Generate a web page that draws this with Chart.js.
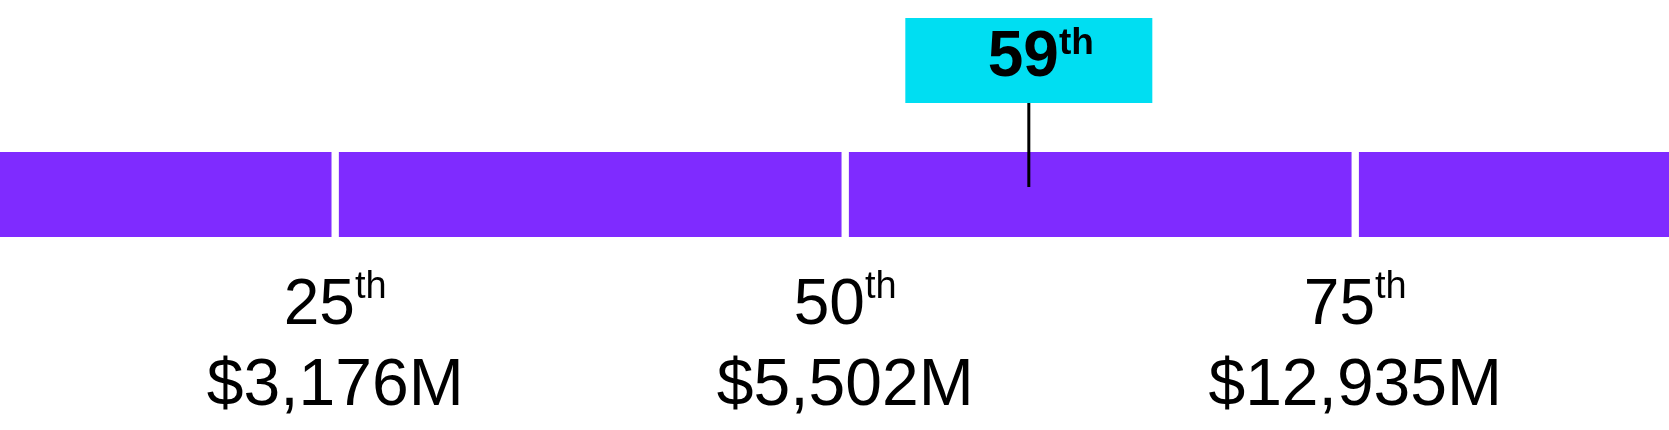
<!DOCTYPE html>
<html lang="en">
<head>
  <meta charset="utf-8">
  <title>Percentile bar</title>
  <script src="https://cdn.jsdelivr.net/npm/chart.js@4.4.1/dist/chart.umd.min.js"></script>
<style>
body { margin: 0; background: #ffffff; }
#wrap { width: 1669px; height: 430px; position: relative; }
</style>
</head>
<body>
<div id="wrap"><canvas id="pct-chart"></canvas></div>

<script>
// percentile bands and their labels
var bounds = [0, 25, 50, 75, 100];
var tickPercentiles = [25, 50, 75];
var tickSuffix = ['th', 'th', 'th'];
var tickValues = ['$3,176M', '$5,502M', '$12,935M'];
var markerPercentile = 59;
var markerSuffix = 'th';

var purple = '#7f2bff';
var cyan = '#00def2';

// one dataset per band, floating from bound to bound
var bands = [];
for (var i = 0; i < bounds.length - 1; i++) {
  bands.push({
    data: [[bounds[i], bounds[i + 1]]],
    backgroundColor: purple,
    borderColor: '#ffffff',
    borderWidth: {left: 4, right: 4, top: 0, bottom: 0},
    borderSkipped: false,
    grouped: false,
    barThickness: 85,
    clip: 0
  });
}

// text with a raised suffix, centred on cx
function supText(ctx, main, sup, cx, baseline, mainFont, supFont, rise) {
  ctx.font = mainFont;
  var w1 = ctx.measureText(main).width;
  ctx.font = supFont;
  var w2 = ctx.measureText(sup).width;
  var x0 = cx - (w1 + w2) / 2;
  ctx.textAlign = 'left';
  ctx.textBaseline = 'alphabetic';
  ctx.font = mainFont;
  ctx.fillText(main, x0, baseline);
  ctx.font = supFont;
  ctx.fillText(sup, x0 + w1, baseline - rise);
}

var labelsPlugin = {
  id: 'pctLabels',
  afterDatasetsDraw: function(chart) {
    var ctx = chart.ctx;
    var xs = chart.scales.x;
    var bar = chart.getDatasetMeta(0).data[0];
    var barTop = bar.y - bar.height / 2;
    var barBottom = bar.y + bar.height / 2;
    ctx.save();
    ctx.fillStyle = '#000000';
    var font = '"Liberation Sans", Arial, sans-serif';

    // percentile ticks under the bar
    tickPercentiles.forEach(function(p, k) {
      var cx = xs.getPixelForValue(p);
      supText(ctx, String(p), tickSuffix[k], cx, barBottom + 87,
        '64px ' + font, '38px ' + font, 26);
      ctx.textAlign = 'center';
      ctx.font = '66px ' + font;
      ctx.fillText(tickValues[k], cx, barBottom + 168);
    });

    // marker: pin + box
    var mx = xs.getPixelForValue(markerPercentile);
    var boxW = 247, boxH = 85;
    var boxBottom = barTop - 49;
    ctx.strokeStyle = '#000000';
    ctx.lineWidth = 3;
    ctx.beginPath();
    ctx.moveTo(mx, boxBottom - 2);
    ctx.lineTo(mx, barTop + 35);
    ctx.stroke();
    ctx.fillStyle = cyan;
    ctx.fillRect(mx - boxW / 2, boxBottom - boxH, boxW, boxH);
    ctx.fillStyle = '#000000';
    supText(ctx, String(markerPercentile), markerSuffix, mx + 12, boxBottom - 27,
      'bold 64px ' + font, 'bold 37px ' + font, 22);
    ctx.restore();
  }
};

new Chart(document.getElementById('pct-chart'), {
  type: 'bar',
  data: {
    labels: [''],
    datasets: bands
  },
  options: {
    indexAxis: 'y',
    responsive: true,
    maintainAspectRatio: false,
    animation: false,
    devicePixelRatio: 1,
    layout: { padding: { top: 0, bottom: 41, left: 0, right: 0 } },
    scales: {
      x: { display: false, min: 8.57, max: 90.38 },
      y: { display: false }
    },
    plugins: {
      legend: { display: false },
      tooltip: { enabled: false }
    }
  },
  plugins: [labelsPlugin]
});
</script>
</body>
</html>
